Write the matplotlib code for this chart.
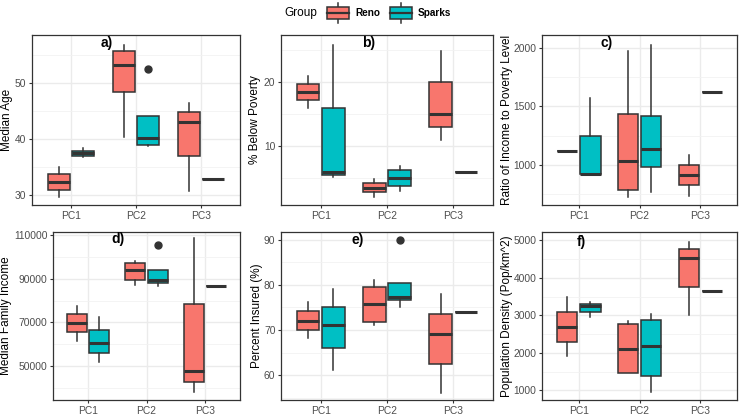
import matplotlib
matplotlib.use("Agg")
import matplotlib.pyplot as plt
from matplotlib.patches import Rectangle
from matplotlib.lines import Line2D
from matplotlib.legend_handler import HandlerBase
from matplotlib.ticker import AutoMinorLocator, FixedLocator

plt.rcParams['font.family'] = ['Liberation Sans', 'DejaVu Sans']

groups = ['PC1', 'PC2', 'PC3']
reno_col = '#F8766D'
sparks_col = '#00BFC4'

# box stats per group: [whislo, q1, med, q3, whishi]
reno_age = [[29.6, 30.9, 32.3, 33.7, 35.0], [40.4, 48.4, 53.3, 55.7, 56.9], [30.7, 36.9, 43.1, 44.8, 46.4]]
sparks_age = [[36.8, 37.0, 37.5, 37.9, 38.4], [38.8, 38.9, 40.2, 44.1, 44.1], [32.9, 32.9, 32.9, 32.9, 32.9]]
sparks_age_out = [[], [52.5], []]

reno_pov = [[16.0, 17.2, 18.5, 19.7, 21.0], [2.0, 2.8, 3.5, 4.3, 4.9], [11.0, 13.0, 15.0, 20.0, 24.9]]
sparks_pov = [[5.2, 5.5, 6.0, 16.0, 25.9], [3.0, 3.8, 5.1, 6.25, 6.9], [6.0, 6.0, 6.0, 6.0, 6.0]]

reno_ratio = [[1122, 1122, 1122, 1122, 1122], [724, 784, 1034, 1438, 1972], [736, 827, 918, 1003, 1088]]
sparks_ratio = [[923, 923, 923, 1247, 1571], [770, 983, 1136, 1420, 2026], [1622, 1622, 1622, 1622, 1622]]

reno_inc = [[61400, 65600, 69700, 73700, 77500], [86900, 89400, 93700, 96900, 98100], [38200, 43000, 47900, 78200, 108500]]
sparks_inc = [[52000, 56100, 60700, 66500, 72500], [86500, 88000, 89200, 93800, 93800], [86500, 86500, 86500, 86500, 86500]]
sparks_inc_out = [[], [105400], []]

reno_ins = [[68.2, 70.0, 72.1, 74.1, 76.1], [71.1, 71.8, 75.7, 79.6, 81.0], [56.1, 62.5, 69.1, 73.5, 77.9]]
sparks_ins = [[61.1, 66.0, 71.2, 75.1, 79.1], [75.1, 76.6, 77.3, 80.4, 80.4], [74.0, 74.0, 74.0, 74.0, 74.0]]
sparks_ins_out = [[], [90.0], []]

reno_dens = [[1912, 2298, 2693, 3096, 3491], [1474, 1474, 2105, 2763, 2842], [3000, 3763, 4535, 4754, 4965]]
sparks_dens = [[2965, 3088, 3246, 3298, 3351], [947, 1386, 2175, 2886, 3035], [3640, 3640, 3640, 3640, 3640]]

panels = [
    ('a)', 'Median Age', reno_age, sparks_age, sparks_age_out, (28.2, 58.6), [30, 40, 50]),
    ('b)', '% Below Poverty', reno_pov, sparks_pov, None, (0.8, 27.4), [10, 20]),
    ('c)', 'Ratio of Income to Poverty Level', reno_ratio, sparks_ratio, None, (659, 2108), [1000, 1500, 2000]),
    ('d)', 'Median Family Income', reno_inc, sparks_inc, sparks_inc_out, (34700, 111200), [50000, 70000, 90000, 110000]),
    ('e)', 'Percent Insured (%)', reno_ins, sparks_ins, sparks_ins_out, (54.5, 91.7), [60, 70, 80, 90]),
    ('f)', 'Population Density (Pop/km^2)', reno_dens, sparks_dens, None, (746, 5219), [1000, 2000, 3000, 4000, 5000]),
]

# axes rectangles in pixels: left, top, right, bottom ; y-label x centre
W, H = 740, 415
rects = [(32, 35, 240, 205), (281, 35, 493, 205), (542, 35, 737, 205),
         (53, 232, 240, 400), (281, 232, 493, 400), (542, 232, 737, 400)]
ylab_x = [7, 255, 507, 6, 257, 507]
label_pos = [(1.55, 0.95), (1.72, 0.95), (1.46, 0.95), (1.51, 0.96), (1.56, 0.95), (1.05, 0.94)]

edge = '#333333'


def make_stats(rows, outs):
    stats = []
    for i, r in enumerate(rows):
        stats.append(dict(whislo=r[0], q1=r[1], med=r[2], q3=r[3], whishi=r[4],
                          fliers=outs[i] if outs else []))
    return stats


def draw_boxes(ax, rows, outs, offset, color):
    pos = [i + 1 + offset for i in range(len(rows))]
    ax.bxp(make_stats(rows, outs), positions=pos, widths=0.34, patch_artist=True,
           showcaps=False, manage_ticks=False,
           boxprops=dict(facecolor=color, edgecolor=edge, linewidth=1.1),
           whiskerprops=dict(color=edge, linewidth=1.1),
           medianprops=dict(color=edge, linewidth=2.2),
           flierprops=dict(marker='o', markerfacecolor=edge, markeredgecolor=edge, markersize=5))


fig = plt.figure(figsize=(7.4, 4.15), dpi=100)

for (lab, ylab, reno, sparks, sout, ylim, yt), (l, t, r, b), yx, (lx, ly) in zip(panels, rects, ylab_x, label_pos):
    ax = fig.add_axes([l / W, 1 - b / H, (r - l) / W, (b - t) / H])
    ax.set_axisbelow(True)
    draw_boxes(ax, reno, None, -0.19, reno_col)
    draw_boxes(ax, sparks, sout, 0.19, sparks_col)
    ax.set_xlim(0.4, 3.6)
    ax.set_ylim(*ylim)
    ax.set_xticks([1, 2, 3])
    ax.set_xticklabels(groups)
    ax.yaxis.set_major_locator(FixedLocator(yt))
    ax.yaxis.set_minor_locator(AutoMinorLocator(2))
    ax.grid(True, which='major', color='#EBEBEB', linewidth=1.0)
    ax.grid(True, which='minor', axis='y', color='#F2F2F2', linewidth=0.6)
    ax.tick_params(which='minor', length=0)
    ax.tick_params(which='major', length=2.5, width=0.8, color='#333333',
                   labelsize=7.4, labelcolor='#4D4D4D', pad=1.5)
    for s in ax.spines.values():
        s.set_color('#333333')
        s.set_linewidth(0.9)
    ax.set_ylabel(ylab, fontsize=8.5)
    ax.yaxis.set_label_coords(yx / W, 1 - (t + b) / 2 / H, transform=fig.transFigure)
    ax.yaxis.label.set_va('center')
    ax.text(lx, ly, lab, transform=ax.get_xaxis_transform(), fontsize=10,
            fontweight='bold', ha='center', va='center')


class BoxKey(HandlerBase):
    def create_artists(self, legend, orig_handle, xdescent, ydescent, width, height, fontsize, trans):
        x0, y0 = -xdescent, -ydescent
        cx = x0 + width / 2
        whisk = Line2D([cx, cx], [y0 - 0.25 * height, y0 + 1.25 * height], color=edge, lw=1.1, transform=trans)
        box = Rectangle((x0, y0), width, height, facecolor=orig_handle.get_facecolor(),
                        edgecolor=edge, lw=1.1, transform=trans)
        med = Line2D([x0, x0 + width], [y0 + height / 2] * 2, color=edge, lw=1.6, transform=trans)
        return [whisk, box, med]


h_reno = Rectangle((0, 0), 1, 1, facecolor=reno_col)
h_sparks = Rectangle((0, 0), 1, 1, facecolor=sparks_col)
fig.text(301 / W, 1 - 13 / H, 'Group', fontsize=8.5, ha='center', va='center')
leg = fig.legend([h_reno, h_sparks], ['Reno', 'Sparks'], loc='center left',
                 bbox_to_anchor=(318 / W, 1 - 13 / H), ncol=2, frameon=False,
                 handler_map={Rectangle: BoxKey()}, handlelength=2.2, handleheight=1.6,
                 handletextpad=0.6, columnspacing=1.0, fontsize=7.2)
for t in leg.get_texts():
    t.set_fontweight('bold')

fig.savefig('out.png', dpi=100)
